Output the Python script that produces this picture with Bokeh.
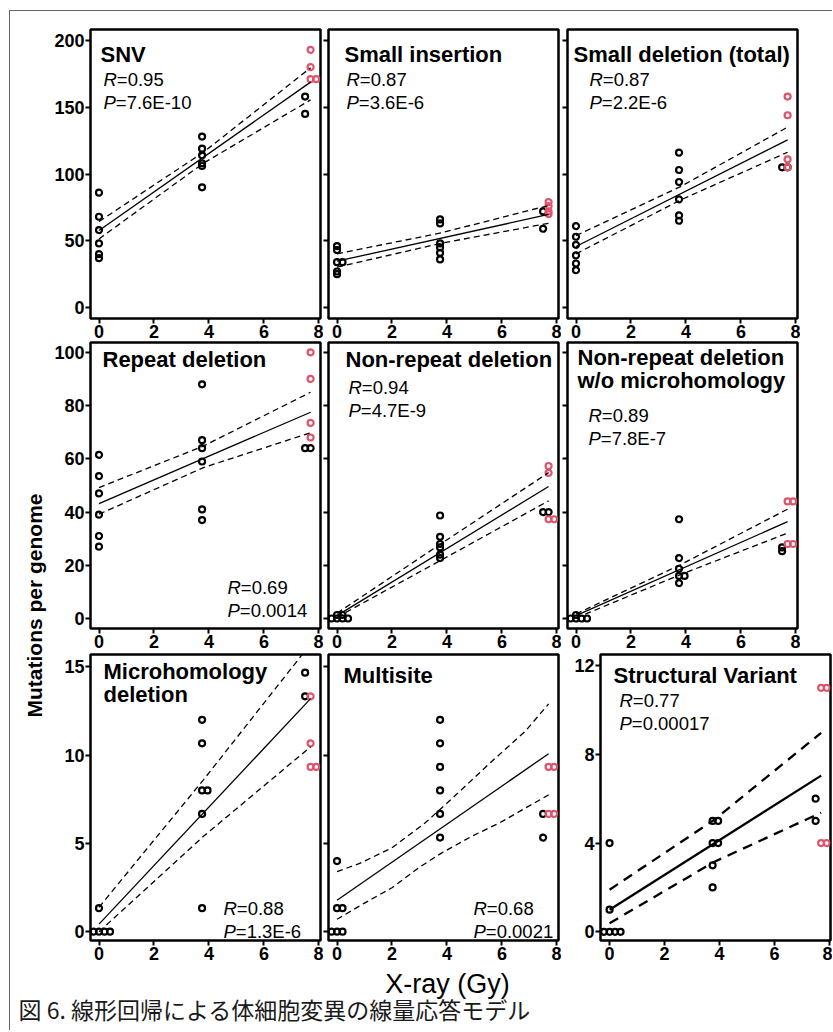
import math
from bokeh.plotting import figure
from bokeh.layouts import row, column
from bokeh.models import Range1d, FixedTicker, Label
from bokeh.embed import file_html
from bokeh.resources import INLINE

# ---------------- data ----------------
# dose of each sample (Gy): 6 controls, 6 at 3.75 Gy, 2 + 4 at ~7.5-7.7 Gy
DOSE = [0, 0, 0, 0, 0, 0, 3.75, 3.75, 3.75, 3.75, 3.75, 3.75, 7.5, 7.5, 7.7, 7.7, 7.7, 7.7]
GROUP = ["A"] * 14 + ["B"] * 4

SNV = [86, 68, 58, 48, 40, 37, 128, 119, 114, 108, 106, 90, 158, 145, 193, 180, 171, 171]
SMALL_INS = [46, 43, 34, 34, 27, 25, 66, 63, 48, 45, 41, 36, 72, 59, 79, 76, 72, 70]
SMALL_DEL = [61, 53, 47, 39, 33, 28, 116, 103, 94, 81, 69, 65, 105, 105, 158, 144, 111, 105]
REPEAT_DEL = [61.5, 53.5, 47, 39, 31, 27, 88, 67, 64, 59, 41, 37, 64, 64, 100, 90, 73.5, 68]
NONREP_DEL = [1.33, 1.33, 0, 0, 0, 0, 38.7, 30.7, 28, 26.7, 24, 22.7, 40, 40, 57.3, 54.7, 37.3, 37.3]
NONREP_NOMH = [1.33, 0, 0, 0, 0, 0, 37.3, 22.7, 18.7, 16, 16, 13.3, 26.7, 25.3, 44, 44, 28, 28]
MH_DEL = [1.33, 0, 0, 0, 0, 0, 12, 10.67, 8, 8, 6.67, 1.33, 14.67, 13.33, 13.33, 10.67, 9.33, 9.33]
MULTISITE = [4, 1.33, 1.33, 0, 0, 0, 12, 10.67, 9.33, 8, 6.67, 5.33, 6.67, 5.33, 9.33, 9.33, 6.67, 6.67]
SV = [4, 1, 0, 0, 0, 0, 5, 5, 4, 4, 3, 2, 6, 5, 11, 11, 4, 4]

# regression line (value at dose 0 and at 7.7 Gy) and confidence band
FIT_X = [0, 7.7]
BAND_X = [0, 3.8, 7.7]
SNV_FIT = [57.7, 168.8]
SNV_UP = [64.4, 116.3, 179.5]
SNV_LO = [51.4, 108.1, 155.5]
INS_FIT = [34.7, 69.7]
INS_UP = [40.2, 56.0, 76.4]
INS_LO = [30.2, 48.2, 63.1]
DEL_FIT = [45.7, 125.6]
DEL_UP = [53.9, 90.5, 135.1]
DEL_LO = [40.2, 80.5, 116.3]
REP_FIT = [43.2, 77.5]
REP_UP = [49.2, 64.8, 85.0]
REP_LO = [39.2, 56.7, 69.8]
NR_FIT = [1.1, 49.6]
NR_UP = [2.0, 28.2, 54.8]
NR_LO = [0.5, 22.0, 44.2]
NRM_FIT = [1.1, 36.4]
NRM_UP = [1.7, 20.2, 41.1]
NRM_LO = [0.2, 16.5, 32.1]
MH_FIT = [0.43, 13.2]
MH_UP = [1.38, 8.6, 16.3]
MH_LO = [0.0, 5.4, 10.47]
MS_FIT = [1.78, 10.08]
MS_UP_X = [0, 0.8, 2.0, 3.2, 4.4, 5.6, 6.85, 7.7]
MS_UP = [3.40, 3.85, 4.75, 6.15, 7.85, 9.6, 11.35, 12.9]
MS_LO_X = [0, 1.0, 2.0, 3.0, 3.8, 4.9, 5.9, 7.7]
MS_LO = [0.70, 1.62, 2.49, 3.65, 4.45, 5.4, 6.15, 7.75]
SV_FIT = [1.0, 7.04]
SV_UP = [1.90, 5.04, 8.97]
SV_LO = [0.39, 3.15, 5.37]

TITLES = ["SNV", "Small insertion", "Small deletion (total)",
          "Repeat deletion", "Non-repeat deletion", "Non-repeat deletion\nw/o microhomology",
          "Microhomology\ndeletion", "Multisite", "Structural Variant"]
R_TEXT = ["0.95", "0.87", "0.87", "0.69", "0.94", "0.89", "0.88", "0.68", "0.77"]
P_TEXT = ["7.6E-10", "3.6E-6", "2.2E-6", "0.0014", "4.7E-9", "7.8E-7", "1.3E-6", "0.0021", "0.00017"]

X_TICKS = [0, 2, 4, 6, 8]
Y_TICKS_1 = [0, 50, 100, 150, 200]
Y_TICKS_2 = [0, 20, 40, 60, 80, 100]
Y_TICKS_3 = [0, 5, 10, 15]
Y_TICKS_SV = [0, 4, 8, 12]

X_LABEL = "X-ray (Gy)"
Y_LABEL = "Mutations per genome"
CAPTION = "図 6. 線形回帰による体細胞変異の線量応答モデル"

# ---------------- styling ----------------
FONT = "Liberation Sans"
RED = "#DF536B"
STAT_SIZE = 18.5


def spread(xs, ys, step=0.2):
    """Shift duplicated points sideways so that they stay visible."""
    order = [0, 1, -1, 2, -2, 3, -3]
    seen = {}
    out = []
    for x, y in zip(xs, ys):
        k = seen.get((x, y), 0)
        seen[(x, y)] = k + 1
        out.append(x + order[k] * step)
    return out


def style_axis(ax, ticks, labels, size="18px"):
    ax.ticker = FixedTicker(ticks=ticks)
    ax.axis_line_color = None
    ax.major_tick_line_color = "black"
    ax.major_tick_line_width = 2
    ax.major_tick_in = 0
    ax.major_tick_out = 5
    ax.minor_tick_line_color = None
    ax.major_label_text_font = FONT
    ax.major_label_text_font_style = "bold"
    ax.major_label_text_font_size = size
    ax.major_label_text_color = "black"
    ax.major_label_standoff = 1
    if not labels:
        ax.major_label_overrides = {t: "" for t in ticks}
        ax.major_label_standoff = 0


def text(p, x, y, s, size, style="normal", align="left", baseline="middle", angle=0,
         font=FONT, color="black"):
    p.add_layout(Label(x=x, y=y, x_units="screen", y_units="screen", text=s,
                       text_font=font, text_font_size=f"{size}px", text_font_style=style,
                       text_align=align, text_baseline=baseline, angle=angle,
                       text_color=color))


def panel(values, fit, up_x, up, lo_x, lo, title, r, pv, geom, xr, yr, yticks, ylab,
          title_pos, stat_pos, heavy=False):
    w, h, bl, br, bt, bb = geom
    fh = h - bt - bb
    p = figure(width=w, height=h, x_range=Range1d(*xr), y_range=Range1d(*yr),
               output_backend="svg", toolbar_location=None, min_border=0,
               min_border_left=bl, min_border_right=br, min_border_top=bt, min_border_bottom=bb)
    p.xgrid.visible = False
    p.ygrid.visible = False
    p.outline_line_color = "black"
    p.outline_line_width = 2.5
    p.outline_line_alpha = 1.0
    p.background_fill_color = "white"
    p.border_fill_color = "white"
    style_axis(p.xaxis[0], X_TICKS, True)
    style_axis(p.yaxis[0], yticks, ylab)

    xs = spread(DOSE, values)
    for grp, col in (("A", "black"), ("B", RED)):
        gx = [x for x, g in zip(xs, GROUP) if g == grp]
        gy = [y for y, g in zip(values, GROUP) if g == grp]
        p.scatter(gx, gy, marker="circle", size=6, fill_color=None,
                  line_color=col, line_width=2.2)

    lw = 2.3 if heavy else 1.3
    dash = "10 7" if heavy else "6 4"
    p.line(FIT_X, fit, line_color="black", line_width=lw)
    p.line(up_x, up, line_color="black", line_width=lw, line_dash=dash)
    p.line(lo_x, lo, line_color="black", line_width=lw, line_dash=dash)

    # positions: distance of the text's middle from the frame's top edge
    tx, tc = title_pos
    for i, line in enumerate(title.split("\n")):
        text(p, tx, fh - tc - i * 23, line, 22, style="bold")
    sx, rc, pc = stat_pos
    text(p, sx, fh - rc, "R", STAT_SIZE, style="italic")
    text(p, sx + 0.722 * STAT_SIZE, fh - rc, "=" + r, STAT_SIZE)
    text(p, sx, fh - pc, "P", STAT_SIZE, style="italic")
    text(p, sx + 0.667 * STAT_SIZE, fh - pc, "=" + pv, STAT_SIZE)
    return p


XR = (-0.31, 8.06)
XR_SV = (-0.33, 8.04)
YR1 = (-8.2, 208.2)
YR2 = (-3.75, 103.7)
YR3 = (-0.5, 15.7)
YR_SV = (-0.39, 12.5)

# geometry: width, height, border left, right, top, bottom
G1 = [(275, 330, 42, 3, 18, 23), (238, 330, 5, 3, 18, 23), (239, 330, 6, 3, 18, 23)]
G2 = [(275, 311, 42, 3, 1, 24), (238, 311, 5, 3, 1, 24), (239, 311, 6, 3, 1, 24)]
G3 = [(275, 312, 42, 3, 2, 24), (238, 312, 5, 3, 2, 24), (271, 312, 39, 2, 2, 24)]

p1 = panel(SNV, SNV_FIT, BAND_X, SNV_UP, BAND_X, SNV_LO, TITLES[0], R_TEXT[0], P_TEXT[0], G1[0],
           XR, YR1, Y_TICKS_1, True, (10, 25), (13, 49.5, 72.5))
p2 = panel(SMALL_INS, INS_FIT, BAND_X, INS_UP, BAND_X, INS_LO, TITLES[1], R_TEXT[1], P_TEXT[1], G1[1],
           XR, YR1, Y_TICKS_1, False, (16, 25), (18, 49.5, 72.5))
p3 = panel(SMALL_DEL, DEL_FIT, BAND_X, DEL_UP, BAND_X, DEL_LO, TITLES[2], R_TEXT[2], P_TEXT[2], G1[2],
           XR, YR1, Y_TICKS_1, False, (6, 25), (22, 49.5, 72.5))
p4 = panel(REPEAT_DEL, REP_FIT, BAND_X, REP_UP, BAND_X, REP_LO, TITLES[3], R_TEXT[3], P_TEXT[3], G2[0],
           XR, YR2, Y_TICKS_2, True, (12, 17), (137, 244.5, 267.5))
p5 = panel(NONREP_DEL, NR_FIT, BAND_X, NR_UP, BAND_X, NR_LO, TITLES[4], R_TEXT[4], P_TEXT[4], G2[1],
           XR, YR2, Y_TICKS_2, False, (17, 17), (20, 44.5, 67.5))
p6 = panel(NONREP_NOMH, NRM_FIT, BAND_X, NRM_UP, BAND_X, NRM_LO, TITLES[5], R_TEXT[5], P_TEXT[5], G2[2],
           XR, YR2, Y_TICKS_2, False, (10, 15), (21, 72.5, 95.5))
p7 = panel(MH_DEL, MH_FIT, BAND_X, MH_UP, BAND_X, MH_LO, TITLES[6], R_TEXT[6], P_TEXT[6], G3[0],
           XR, YR3, Y_TICKS_3, True, (13, 17), (133, 253.5, 276.5))
p8 = panel(MULTISITE, MS_FIT, MS_UP_X, MS_UP, MS_LO_X, MS_LO, TITLES[7], R_TEXT[7], P_TEXT[7], G3[1],
           XR, YR3, Y_TICKS_3, False, (15, 21), (145, 253.5, 276.5))
p9 = panel(SV, SV_FIT, BAND_X, SV_UP, BAND_X, SV_LO, TITLES[8], R_TEXT[8], P_TEXT[8], G3[2],
           XR_SV, YR_SV, Y_TICKS_SV, True, (13, 21), (19, 45.5, 68.5), heavy=True)


def blank(w, h):
    p = figure(width=w, height=h, x_range=Range1d(0, 1), y_range=Range1d(0, 1),
               output_backend="svg", toolbar_location=None, min_border=0,
               x_axis_location=None, y_axis_location=None)
    p.xgrid.visible = False
    p.ygrid.visible = False
    p.outline_line_color = None
    p.background_fill_color = "white"
    p.border_fill_color = "white"
    return p


strip = blank(38, 953)
text(strip, 24, 359, Y_LABEL, 21, style="bold", align="center", angle=math.pi / 2)

bottom = blank(822, 66)
text(bottom, 437, 47, X_LABEL, 27, align="center")
text(bottom, 8, 22, CAPTION, 23, align="left", font="Noto Sans CJK JP", color="#1a1a1a")

grid = column(row(p1, p2, p3), row(p4, p5, p6), row(p7, p8, p9))
layout = column(row(strip, grid), bottom, margin=(10, 0, 0, 9),
                styles={"border-top": "1px solid #666666", "border-left": "1px solid #666666"})

open("out.html", "w").write(file_html(layout, INLINE, title="Dose response"))
